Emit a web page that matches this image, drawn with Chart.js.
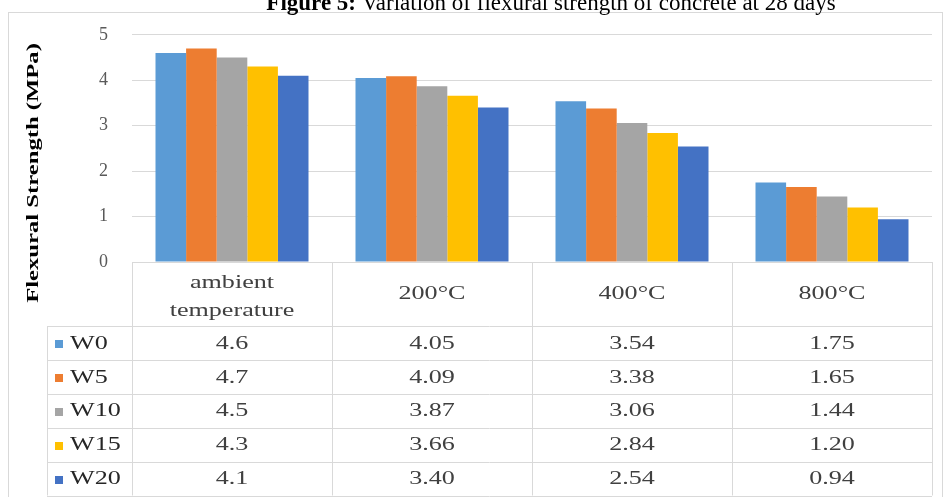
<!DOCTYPE html>
<html>
<head>
<meta charset="utf-8">
<script src="https://cdn.jsdelivr.net/npm/chart.js@4.4.1/dist/chart.umd.min.js"></script>
<style>
  html, body { margin: 0; padding: 0; background: #ffffff; }
  canvas { display: block; }
</style>
</head>
<body>
<canvas id="chart" width="944" height="497"></canvas>
<script>
// Exposure conditions (x categories)
const categories = [['ambient', 'temperature'], '200°C', '400°C', '800°C'];
// Decimal places shown in the data table for each category column
const tableDecimals = [1, 2, 2, 2];

// Mixes
const seriesNames = ['W0', 'W5', 'W10', 'W15', 'W20'];
const seriesColors = ['#5B9BD5', '#ED7D31', '#A5A5A5', '#FFC000', '#4472C4'];

// Flexural strength at 28 days (MPa)
const w0  = [4.6, 4.05, 3.54, 1.75];
const w5  = [4.7, 4.09, 3.38, 1.65];
const w10 = [4.5, 3.87, 3.06, 1.44];
const w15 = [4.3, 3.66, 2.84, 1.20];
const w20 = [4.1, 3.40, 2.54, 0.94];
const seriesValues = [w0, w5, w10, w15, w20];

// Y axis ticks
const yMin = 0, yMax = 5, yStep = 1;

const SERIF = "'Liberation Serif', 'Times New Roman', serif";
const GRID = '#D9D9D9';
const TEXT_STRETCH = 1.45;   // chart text is drawn wide
const ROW_H = 33.9;
const HEADER_H = 64;
const LEGEND_LEFT = 47;

function wideText(ctx, text, x, y, align) {
  ctx.save();
  ctx.translate(x, y);
  ctx.scale(TEXT_STRETCH, 1);
  ctx.textAlign = align;
  ctx.fillText(text, 0, 0);
  ctx.restore();
}

// Draws the figure caption, the frame, the y axis title and the data table under the plot
const tablePlugin = {
  id: 'dataTable',
  afterDraw(chart) {
    const ctx = chart.ctx;
    const area = chart.chartArea;
    const xs = chart.scales.x;
    const n = categories.length;
    const catW = (area.right - area.left) / n;
    const top = area.bottom;
    const rowTop = top + HEADER_H;
    const bottom = rowTop + ROW_H * seriesNames.length;
    const crisp = v => Math.round(v) + 0.5;

    ctx.save();

    // frame
    ctx.strokeStyle = GRID;
    ctx.lineWidth = 1;
    ctx.strokeRect(8.5, 12.5, 934, 490);

    // caption
    ctx.fillStyle = '#000000';
    ctx.textBaseline = 'alphabetic';
    const boldPart = 'Figure 5:';
    const normalPart = ' Variation of flexural strength of concrete at 28 days';
    ctx.font = `bold 23px ${SERIF}`;
    const wb = ctx.measureText(boldPart).width;
    ctx.font = `23px ${SERIF}`;
    const wn = ctx.measureText(normalPart).width;
    const startX = 551 - (wb + wn) / 2;
    ctx.font = `bold 23px ${SERIF}`;
    ctx.textAlign = 'left';
    ctx.fillText(boldPart, startX, 10);
    ctx.font = `23px ${SERIF}`;
    ctx.fillText(normalPart, startX + wb, 10);

    // y axis title
    ctx.save();
    ctx.translate(34, 173);
    ctx.rotate(-Math.PI / 2);
    ctx.scale(TEXT_STRETCH, 1);
    ctx.font = `bold 17px ${SERIF}`;
    ctx.textAlign = 'center';
    ctx.textBaseline = 'middle';
    ctx.fillStyle = '#000000';
    ctx.fillText('Flexural Strength (MPa)', 0, 0);
    ctx.restore();

    // table grid
    ctx.strokeStyle = GRID;
    ctx.beginPath();
    ctx.moveTo(area.left, crisp(top));
    ctx.lineTo(area.right, crisp(top));
    for (let r = 0; r <= seriesNames.length; r++) {
      const y = crisp(rowTop + r * ROW_H);
      ctx.moveTo(LEGEND_LEFT, y);
      ctx.lineTo(area.right, y);
    }
    ctx.moveTo(crisp(LEGEND_LEFT), rowTop);
    ctx.lineTo(crisp(LEGEND_LEFT), bottom);
    for (let c = 0; c <= n; c++) {
      const x = crisp(xs.getPixelForValue(0) - catW / 2 + c * catW);
      ctx.moveTo(x, top);
      ctx.lineTo(x, bottom);
    }
    ctx.stroke();

    // header labels
    ctx.fillStyle = '#404040';
    ctx.font = `18px ${SERIF}`;
    ctx.textBaseline = 'middle';
    categories.forEach((lab, i) => {
      const cx = xs.getPixelForValue(i);
      if (Array.isArray(lab)) {
        wideText(ctx, lab[0], cx, top + 21, 'center');
        wideText(ctx, lab[1], cx, top + 49, 'center');
      } else {
        wideText(ctx, lab, cx, top + HEADER_H / 2, 'center');
      }
    });

    // rows: legend key, series name, values
    seriesNames.forEach((name, r) => {
      const cy = rowTop + r * ROW_H + ROW_H / 2 + 1;
      ctx.fillStyle = seriesColors[r];
      ctx.fillRect(55, Math.round(cy - 4), 8, 8);
      ctx.fillStyle = '#262626';
      wideText(ctx, name, 70, cy, 'left');
      ctx.fillStyle = '#404040';
      seriesValues[r].forEach((v, i) => {
        wideText(ctx, v.toFixed(tableDecimals[i]), xs.getPixelForValue(i), cy, 'center');
      });
    });

    ctx.restore();
  }
};

new Chart(document.getElementById('chart').getContext('2d'), {
  type: 'bar',
  data: {
    labels: categories,
    datasets: seriesNames.map((name, i) => ({
      label: name,
      data: seriesValues[i],
      backgroundColor: seriesColors[i],
      borderWidth: 0,
      barPercentage: 1,
      categoryPercentage: 0.765
    }))
  },
  options: {
    responsive: false,
    animation: false,
    devicePixelRatio: 1,
    layout: { padding: { left: 8, top: 34, right: 12, bottom: 235 } },
    plugins: {
      legend: { display: false },
      tooltip: { enabled: false },
      title: { display: false }
    },
    scales: {
      x: { display: false },
      y: {
        min: yMin,
        max: yMax,
        ticks: {
          stepSize: yStep,
          color: '#595959',
          padding: 24,
          font: { family: SERIF, size: 18 }
        },
        grid: { color: GRID, lineWidth: 1, drawTicks: false },
        border: { display: false },
        afterFit(scale) { scale.width = 124; }
      }
    }
  },
  plugins: [tablePlugin]
});
</script>
</body>
</html>
